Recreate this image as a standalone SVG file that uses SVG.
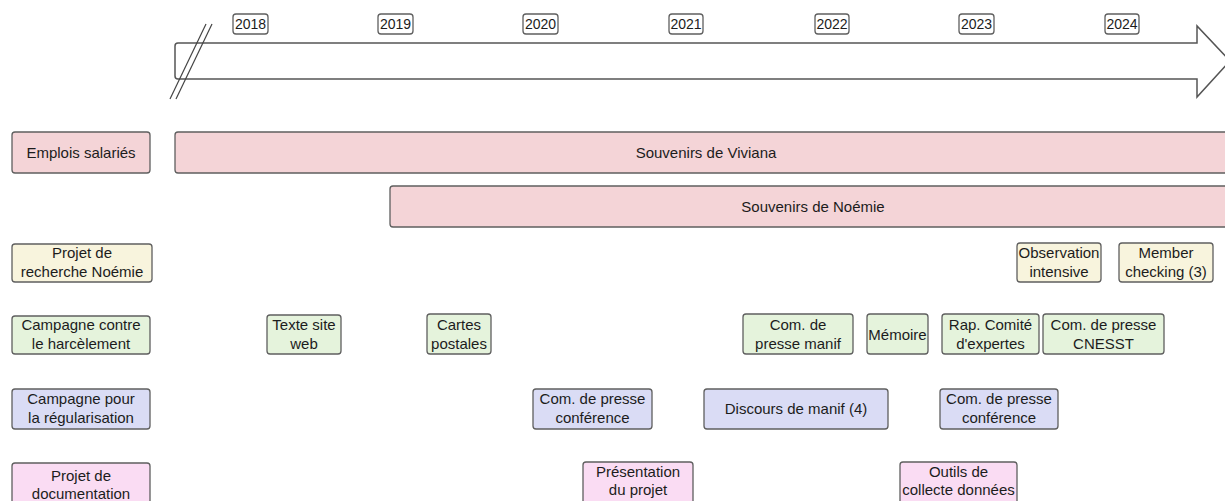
<svg xmlns="http://www.w3.org/2000/svg" width="1225" height="501" viewBox="0 0 1225 501">
<style>
text{font-family:"Liberation Sans",Arial,sans-serif;font-size:15px;fill:#1c1c1c;text-anchor:middle}
.yr{font-size:14px}
rect{stroke:#5f5f5f;stroke-width:1.3}
.pk{fill:#f4d4d7}
.ye{fill:#f8f4dd}
.gr{fill:#e5f3dc}
.bl{fill:#dadcf5}
.mg{fill:#fadcf3}
.yb{fill:#fff}
</style>
<rect width="1225" height="501" style="fill:#fff;stroke:none"/>
<g id="timeline">
<path d="M1197,43 L178,43 Q175,43 175,46 L175,76 Q175,79 178,79 L1197,79 L1197,97 L1230,61 L1197,26 Z" fill="#fff" stroke="#555" stroke-width="1.5"/>
<line x1="170" y1="99" x2="206" y2="24" stroke="#444" stroke-width="1.2"/>
<line x1="176" y1="99" x2="212" y2="24" stroke="#444" stroke-width="1.2"/>
</g>
<g id="y2018"><rect class="yb" x="233" y="14" width="35" height="20" rx="3"/><text class="yr" x="250.5" y="29">2018</text></g>
<g id="y2019"><rect class="yb" x="378" y="14" width="35" height="20" rx="3"/><text class="yr" x="395.5" y="29">2019</text></g>
<g id="y2020"><rect class="yb" x="523" y="14" width="35" height="20" rx="3"/><text class="yr" x="540.5" y="29">2020</text></g>
<g id="y2021"><rect class="yb" x="669" y="14" width="34" height="20" rx="3"/><text class="yr" x="686" y="29">2021</text></g>
<g id="y2022"><rect class="yb" x="815" y="14" width="34" height="20" rx="3"/><text class="yr" x="832" y="29">2022</text></g>
<g id="y2023"><rect class="yb" x="959" y="14" width="35" height="20" rx="3"/><text class="yr" x="976.5" y="29">2023</text></g>
<g id="y2024"><rect class="yb" x="1105" y="14" width="34" height="20" rx="3"/><text class="yr" x="1122" y="29">2024</text></g>

<g id="row-emplois"><rect class="pk" x="12" y="132" width="138" height="41" rx="3"/><text x="81" y="158">Emplois salariés</text></g>
<g id="souvenirs-viviana"><rect class="pk" x="175" y="132" width="1062" height="41" rx="3"/><text x="706" y="158">Souvenirs de Viviana</text></g>
<g id="souvenirs-noemie"><rect class="pk" x="390" y="186" width="846" height="41" rx="3"/><text x="813" y="212">Souvenirs de Noémie</text></g>

<g id="row-recherche"><rect class="ye" x="12" y="244" width="140" height="38" rx="3"/><text x="82" y="258">Projet de</text><text x="82" y="277">recherche Noémie</text></g>
<g id="observation"><rect class="ye" x="1017" y="243" width="84" height="39" rx="3"/><text x="1059" y="258">Observation</text><text x="1059" y="277">intensive</text></g>
<g id="member"><rect class="ye" x="1119" y="243" width="94" height="39" rx="3"/><text x="1166" y="258">Member</text><text x="1166" y="277">checking (3)</text></g>

<g id="row-harcelement"><rect class="gr" x="12" y="316" width="138" height="38" rx="3"/><text x="81" y="330">Campagne contre</text><text x="81" y="349">le harcèlement</text></g>
<g id="texte-site"><rect class="gr" x="267" y="315" width="74" height="39" rx="3"/><text x="304" y="330">Texte site</text><text x="304" y="349">web</text></g>
<g id="cartes"><rect class="gr" x="427" y="314" width="64" height="40" rx="3"/><text x="459" y="330">Cartes</text><text x="459" y="349">postales</text></g>
<g id="com-manif"><rect class="gr" x="743" y="314" width="110" height="40" rx="3"/><text x="798" y="330">Com. de</text><text x="798" y="349">presse manif</text></g>
<g id="memoire"><rect class="gr" x="867" y="314" width="61" height="40" rx="3"/><text x="897.5" y="339.5">Mémoire</text></g>
<g id="rap-comite"><rect class="gr" x="942" y="314" width="97" height="40" rx="3"/><text x="990.5" y="330">Rap. Comité</text><text x="990.5" y="349">d'expertes</text></g>
<g id="com-cnesst"><rect class="gr" x="1043" y="314" width="121" height="40" rx="3"/><text x="1103.5" y="330">Com. de presse</text><text x="1103.5" y="349">CNESST</text></g>

<g id="row-regularisation"><rect class="bl" x="12" y="389" width="138" height="40" rx="3"/><text x="81" y="404">Campagne pour</text><text x="81" y="423">la régularisation</text></g>
<g id="com-conf-2020"><rect class="bl" x="533" y="389" width="119" height="40" rx="3"/><text x="592.5" y="404">Com. de presse</text><text x="592.5" y="423">conférence</text></g>
<g id="discours"><rect class="bl" x="704" y="389" width="184" height="40" rx="3"/><text x="796" y="414">Discours de manif (4)</text></g>
<g id="com-conf-2023"><rect class="bl" x="940" y="389" width="118" height="40" rx="3"/><text x="999" y="404">Com. de presse</text><text x="999" y="423">conférence</text></g>

<g id="row-documentation"><rect class="mg" x="12" y="463" width="138" height="46" rx="3"/><text x="81" y="481">Projet de</text><text x="81" y="499">documentation</text></g>
<g id="presentation"><rect class="mg" x="583" y="462" width="110" height="46" rx="3"/><text x="638" y="477">Présentation</text><text x="638" y="495">du projet</text></g>
<g id="outils"><rect class="mg" x="900" y="462" width="117" height="46" rx="3"/><text x="958.5" y="477">Outils de</text><text x="958.5" y="495">collecte données</text></g>
<g id="connectors"></g>
</svg>
